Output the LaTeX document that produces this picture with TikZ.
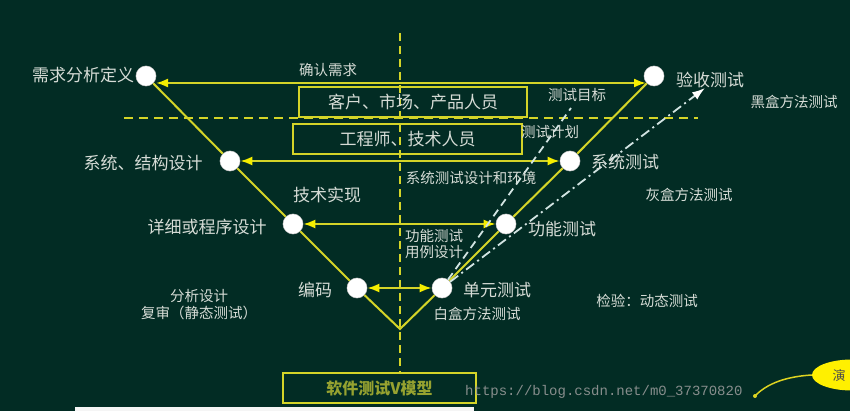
\documentclass[tikz,border=0pt]{standalone}
\usepackage{fontspec}
\newfontfamily\cjk{Noto Sans CJK SC}
\newfontfamily\wmfont{Liberation Mono}
\usetikzlibrary{arrows.meta,shapes.geometric}
\definecolor{bgc}{RGB}{2,44,36}
\definecolor{yel}{RGB}{212,212,40}
\definecolor{arr}{RGB}{245,238,0}
\definecolor{txt}{RGB}{214,220,214}
\definecolor{lbl}{RGB}{150,162,48}
\definecolor{wl}{RGB}{210,228,226}
\definecolor{ellc}{RGB}{255,240,0}
\tikzset{
  dot/.style={circle,fill=white,draw=gray!50,line width=0.6pt,minimum size=20pt,inner sep=0pt},
  big/.style={text=txt,font=\cjk\fontsize{17}{20}\selectfont,inner sep=0pt},
  small/.style={text=txt,font=\cjk\fontsize{14.5}{17}\selectfont,inner sep=0pt},
  vline/.style={draw=yel,line width=2pt},
  harrow/.style={draw=yel,line width=2pt,{Latex[length=12pt,width=9pt,color=arr]}-{Latex[length=12pt,width=9pt,color=arr]}},
  boxst/.style={draw=yel,line width=2pt,inner sep=0pt,minimum height=30pt},
  ydash/.style={draw=yel,line width=2.5pt,dash pattern=on 9pt off 6pt},
  wdash/.style={draw=wl,line width=1.8pt,dash pattern=on 8pt off 5pt},
  wdashdot/.style={draw=wl,line width=1.8pt,dash pattern=on 10pt off 4pt on 2pt off 4pt,-{Latex[length=13pt,width=9pt,color=white]}},
}
\begin{document}
\begin{tikzpicture}[x=1pt,y=-1pt]
\fill[bgc] (0,0) rectangle (850,411);
\useasboundingbox (0,0) rectangle (850,411);

% boxes
\node[boxst,minimum width=228pt] (b1) at (413,102) {};
\node[boxst,minimum width=229pt] (b2) at (407.5,139) {};
\node[boxst,minimum width=193pt] (b3) at (379.5,388) {};

% dashed guides
\coordinate (vt) at (400,33);
\coordinate (hl) at (124,118);
\coordinate (hr) at (698,118);
\draw[ydash] (hl) -- (hr);
\draw[ydash,dash pattern=on 8pt off 5pt] (vt) -- (b3.north -| vt);

% V nodes
\coordinate (vb) at (400,329);
\node[dot] (c1) at (146,76) {};
\node[dot] (c2) at (230,161) {};
\node[dot] (c3) at (293,224) {};
\node[dot] (c4) at (357,288) {};
\node[dot] (c7) at (442,288) {};
\node[dot] (c8) at (506,224) {};
\node[dot] (c9) at (570,161) {};
\node[dot] (c10) at (654,76) {};

% V lines
\draw[vline] (c1) -- (c2) -- (c3) -- (c4) -- (vb) -- (c7) -- (c8) -- (c9) -- (c10);

% horizontal arrows
\coordinate (ta) at (156,83);
\coordinate (tb) at (646,83);
\draw[harrow] (ta) -- (tb);
\draw[harrow] (c2) -- (c9);
\draw[harrow] (c3) -- (c8);
\draw[harrow] (c4) -- (c7);

% white test lines
\coordinate (wt1) at (571,108);
\coordinate (wt2) at (705,88);
\draw[wdash] (c7) -- (wt1);
\draw[wdashdot] (c7) -- (wt2);

% redraw circles on top
\foreach \n in {c1,c2,c3,c4,c7,c8,c9,c10}{
  \fill[white] (\n) circle (9.6pt);
}

% box texts
\node[big] (t1) at (b1) {客户、市场、产品人员};
\node[big] (t2) at (b2) {工程师、技术人员};
\node[text=lbl,font=\cjk\fontsize{16}{19}\selectfont\bfseries,inner sep=0pt] (t3) at (b3) {软件测试V模型};

% labels
\node[big] (l1) at (83,75) {需求分析定义};
\node[small] (l2) at (328,70) {确认需求};
\node[big] (l3) at (710,80) {验收测试};
\node[small] (l4) at (577,95) {测试目标};
\node[small] (l5) at (794,102) {黑盒方法测试};
\node[small] (l6) at (550,132) {测试计划};
\node[big] (l7) at (143,163) {系统、结构设计};
\node[big] (l8) at (625,162) {系统测试};
\node[small] (l9) at (471,178) {系统测试设计和环境};
\node[small] (l10) at (689,195) {灰盒方法测试};
\node[big] (l11) at (327,195) {技术实现};
\node[big] (l12) at (207,227) {详细或程序设计};
\node[big] (l13) at (562,229) {功能测试};
\node[small,align=left,anchor=west,font=\cjk\fontsize{14.5}{15.5}\selectfont] (l14) at (405,244) {功能测试\\用例设计};
\node[big] (l15) at (315,290) {编码};
\node[big] (l16) at (497,290) {单元测试};
\node[small] (l17) at (477,314) {白盒方法测试};
\node[small,align=center,font=\cjk\fontsize{14.5}{17}\selectfont] (l18) at (199,305) {分析设计\\复审（静态测试）};
\node[small] (l19) at (647,301) {检验：动态测试};

% cut-off items at the edges
\node[ellipse,fill=ellc,minimum width=80pt,minimum height=31pt,inner sep=0pt] (ell) at (852,375) {};
\node[text=black!70,font=\cjk\fontsize{13}{15}\selectfont,inner sep=0pt] (ellt) at (839,375) {演};
\coordinate (cs) at (755,396);
\draw[yellow!85!black,line width=1.5pt] (cs) .. controls (770,380) and (795,376) .. (ell.west);
\fill[yellow!85!black] (cs) circle (2pt);
\fill[white!92!gray] (75,407) rectangle (474,412);

% watermark
\node[anchor=west,text=gray!75!white,opacity=0.85,font=\wmfont\fontsize{14}{16}\selectfont,inner sep=0pt] (wm) at (465,392) {https://blog.csdn.net/m0\_37370820};
\end{tikzpicture}
\end{document}
